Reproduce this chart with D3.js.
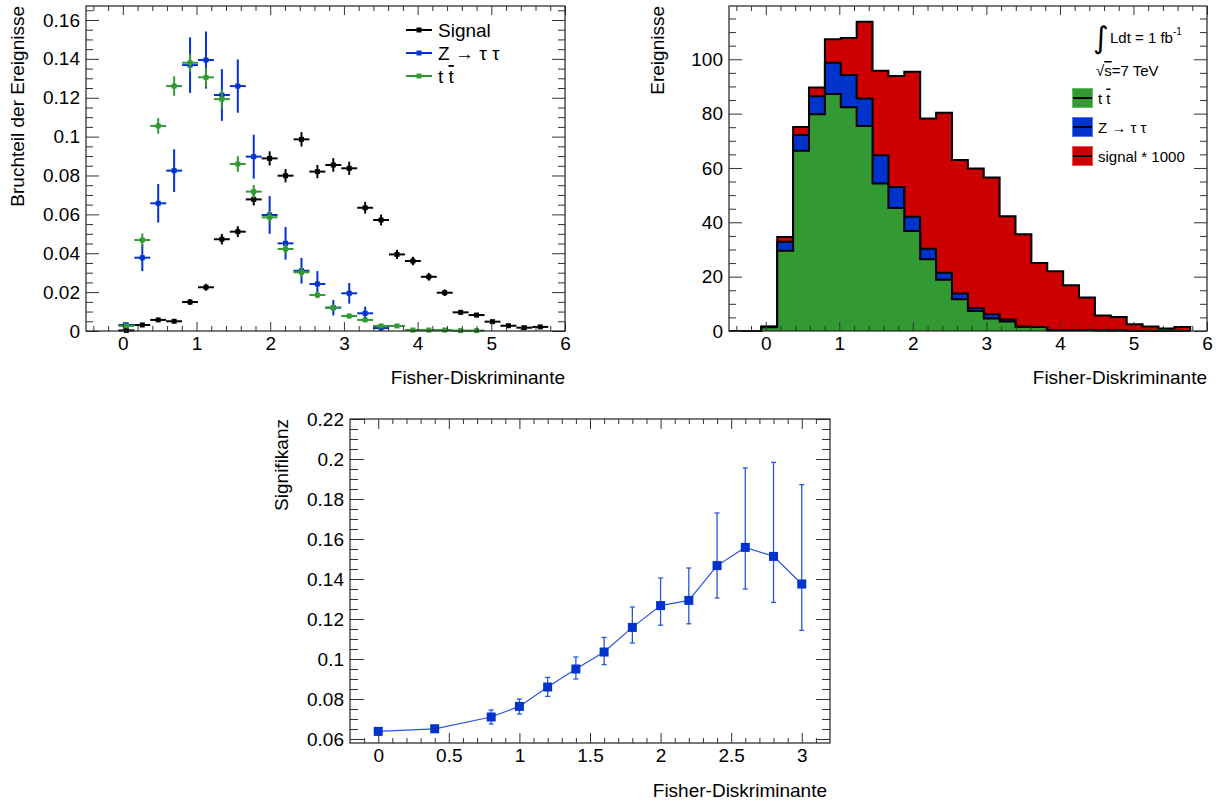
<!DOCTYPE html>
<html>
<head>
<meta charset="utf-8">
<script src="https://cdn.jsdelivr.net/npm/d3@7"></script>
<style>
body { margin: 0; background: #fff; }
svg { font-family: "Liberation Sans", Arial, sans-serif; }
</style>
</head>
<body>
<div id="wrapper"></div>
<script>
const width = 1222
const height = 800

// binning of the two upper plots
const binLo = -0.06
const binW = 0.216

// upper left: normalised distributions (fraction of events per bin)
const sigFrac = [0.0003, 0.0031, 0.0057, 0.0050, 0.0149, 0.0225, 0.0472, 0.0511, 0.0677, 0.0888, 0.0799, 0.0986, 0.0820, 0.0854, 0.0837, 0.0634, 0.0571, 0.0394, 0.0360, 0.0279, 0.0197, 0.0096, 0.0082, 0.0048, 0.0027, 0.0017, 0.0021]
const sigFracErr = [0.0002, 0.0007, 0.0009, 0.0008, 0.0015, 0.0018, 0.0027, 0.0028, 0.0031, 0.0036, 0.0034, 0.0037, 0.0034, 0.0035, 0.0034, 0.0030, 0.0028, 0.0024, 0.0022, 0.0020, 0.0017, 0.0012, 0.0011, 0.0008, 0.0006, 0.0005, 0.0005]
const zttFrac = [0.0031, 0.0377, 0.0657, 0.0825, 0.1368, 0.1394, 0.1214, 0.1260, 0.0897, 0.0597, 0.0451, 0.0310, 0.0242, 0.0120, 0.0194, 0.0091, 0.0015]
const zttFracErr = [0.0015, 0.0069, 0.0099, 0.0110, 0.0143, 0.0147, 0.0133, 0.0137, 0.0113, 0.0097, 0.0084, 0.0066, 0.0066, 0.0040, 0.0053, 0.0034, 0.0013]
const ttFrac = [0.0026, 0.0468, 0.1055, 0.1260, 0.1380, 0.1305, 0.1193, 0.0859, 0.0717, 0.0585, 0.0422, 0.0302, 0.0185, 0.0120, 0.0077, 0.0057, 0.0026, 0.0026, 0.0005, 0.0005, 0.0005, 0.0002, 0.0002]
const ttFracErr = [0.0007, 0.0034, 0.0040, 0.0050, 0.0045, 0.0050, 0.0050, 0.0040, 0.0034, 0.0030, 0.0025, 0.0025, 0.0017, 0.0015, 0.0012, 0.0010, 0.0007, 0.0007, 0.0003, 0.0003, 0.0003, 0.0002, 0.0002]

// upper right: stacked events
const ttEvents = [1.4, 29.5, 66.3, 79.8, 87.2, 82.3, 75.4, 54.3, 45.3, 36.8, 26.4, 18.9, 11.7, 7.4, 4.6, 3.5, 1.5, 1.5, 0.3, 0.3, 0.3, 0.15, 0.15, 0, 0, 0, 0]
const zttEvents = [0.2, 3.3, 5.8, 6.6, 11.5, 11.9, 10.2, 10.4, 7.7, 5.2, 3.9, 2.5, 2.1, 1.1, 1.6, 0.7, 0.2, 0, 0, 0, 0, 0, 0, 0, 0, 0, 0]
const sigEvents = [0.1, 1.8, 3.0, 3.2, 8.7, 13.6, 28.2, 31.1, 40.8, 53.4, 47.9, 58.9, 49.1, 51.3, 50.3, 38.0, 33.9, 23.5, 21.7, 16.5, 12.0, 5.6, 5.0, 2.5, 1.7, 0.9, 1.5]

// lower: significance vs. cut
const cutX = [0, 0.4, 0.8, 1.0, 1.2, 1.4, 1.6, 1.8, 2.0, 2.2, 2.4, 2.6, 2.8, 3.0]
const signif = [0.0638, 0.0651, 0.0710, 0.0763, 0.0860, 0.0950, 0.1035, 0.1158, 0.1267, 0.1293, 0.1467, 0.1558, 0.1513, 0.1375]
const signifErrUp = [0.0017, 0.0017, 0.0035, 0.0037, 0.0048, 0.0060, 0.0073, 0.0102, 0.0138, 0.0162, 0.0263, 0.0397, 0.0470, 0.0497]
const signifErrDown = [0.0017, 0.0017, 0.0035, 0.0038, 0.0047, 0.0050, 0.0063, 0.0078, 0.0098, 0.0117, 0.0162, 0.0208, 0.0230, 0.0232]

const cGreen = "#339933"
const cBlue = "#0033cc"
const cRed = "#cc0000"

const svg = d3.select("#wrapper").append("svg")
    .attr("width", width)
    .attr("height", height)

// frame with ROOT-style ticks on all four sides
function frame(x, y, o) {
    const g = svg.append("g")
    const [x0, x1] = x.range(), [y1, y0] = y.range()
    const fmt = o.fmt || (d => String(+d.toFixed(3)))
    const axes = [
        [d3.axisBottom(x), `translate(0,${y1})`, o.xMaj, o.xMin, o.xt, true],
        [d3.axisTop(x), `translate(0,${y0})`, o.xMaj, o.xMin, o.xt, false],
        [d3.axisLeft(y), `translate(${x0},0)`, o.yMaj, o.yMin, o.yt, true],
        [d3.axisRight(y), `translate(${x1},0)`, o.yMaj, o.yMin, o.yt, false]
    ]
    for (const [ax, tr, maj, min, len, lab] of axes) {
        g.append("g").attr("transform", tr)
            .call(ax.tickValues(min).tickSize(-len[1]).tickFormat(""))
            .call(s => s.select(".domain").remove())
        const a = g.append("g").attr("transform", tr)
            .call(ax.tickValues(maj).tickSize(-len[0]).tickPadding(lab ? o.pad : 0).tickFormat(lab ? fmt : ""))
            .call(s => s.select(".domain").remove())
        a.selectAll("text").attr("font-size", 19).attr("font-family", null).attr("fill", "#000")
    }
    g.selectAll(".tick line").attr("stroke", "#333")
    g.append("rect")
        .attr("x", x0).attr("y", y0)
        .attr("width", x1 - x0).attr("height", y1 - y0)
        .attr("fill", "none").attr("stroke", "#222").attr("stroke-width", 1.2)
    return g
}

function minors(lo, hi, step, majStep) {
    return d3.range(Math.round(lo / step), Math.round(hi / step) + 1)
        .map(i => +(i * step).toFixed(4))
        .filter(v => Math.abs(v / majStep - Math.round(v / majStep)) > 1e-6)
}

function title(txt, x, y, rot, anchor) {
    svg.append("text")
        .attr("transform", `translate(${x},${y})` + (rot ? " rotate(-90)" : ""))
        .attr("text-anchor", anchor)
        .attr("font-size", 19)
        .text(txt)
}

// "t t" with a bar over the second t
function tbar(sel) {
    sel.append("tspan").text("t ")
    sel.append("tspan").attr("text-decoration", "overline").text("t")
}

// ---------------- upper left ----------------
const xL = d3.scaleLinear([-0.5, 6], [86, 565])
const yL = d3.scaleLinear([0, 0.1672], [331, 6])
const center = i => binLo + binW * (i + 0.5)

function drawPoints(vals, errs, color) {
    const pts = vals.map((v, i) => ({ c: center(i), v, e: errs[i] }))
    const g = svg.append("g").attr("stroke", color).attr("stroke-width", 2)
    g.selectAll(".h").data(pts).join("line")
        .attr("x1", d => xL(d.c - binW / 2)).attr("x2", d => xL(d.c + binW / 2))
        .attr("y1", d => yL(d.v)).attr("y2", d => yL(d.v))
    g.selectAll(".v").data(pts).join("line")
        .attr("x1", d => xL(d.c)).attr("x2", d => xL(d.c))
        .attr("y1", d => yL(d.v - d.e)).attr("y2", d => yL(d.v + d.e))
    g.selectAll("rect").data(pts).join("rect")
        .attr("x", d => xL(d.c) - 2.5).attr("y", d => yL(d.v) - 2.5)
        .attr("width", 5).attr("height", 5)
        .attr("fill", color).attr("stroke", "none")
}

drawPoints(sigFrac, sigFracErr, "#000")
drawPoints(zttFrac, zttFracErr, cBlue)
drawPoints(ttFrac, ttFracErr, cGreen)

frame(xL, yL, {
    xMaj: d3.range(0, 7), xMin: minors(-0.4, 6, 0.2, 1), xt: [9, 5],
    yMaj: d3.range(0, 9).map(i => i * 0.02), yMin: minors(0, 0.165, 0.005, 0.02), yt: [13, 7],
    pad: 6
})
title("Bruchteil der Ereignisse", 24, 6, true, "end")
title("Fisher-Diskriminante", 565, 384, false, "end")

// legend
const legL = [
    { name: "Signal", color: "#000" },
    { name: "Z \u2192 \u03c4 \u03c4", color: cBlue },
    { name: null, color: cGreen }
]
const lg = svg.append("g").attr("transform", "translate(406,30)")
    .selectAll("g").data(legL).join("g")
    .attr("transform", (d, i) => `translate(0,${i * 23})`)
lg.append("line").attr("x2", 26).attr("stroke", d => d.color).attr("stroke-width", 2)
lg.append("rect").attr("x", 10.5).attr("y", -2.5).attr("width", 5).attr("height", 5).attr("fill", d => d.color)
const lt = lg.append("text").attr("x", 32).attr("y", 7).attr("font-size", 19)
lt.filter(d => d.name).text(d => d.name)
lt.filter(d => !d.name).call(tbar)

// ---------------- upper right ----------------
const xR = d3.scaleLinear([-0.5, 6], [729, 1207])
const yR = d3.scaleLinear([0, 119.6], [331, 6])

const cumZ = ttEvents.map((v, i) => v + zttEvents[i])
const cumAll = cumZ.map((v, i) => v + sigEvents[i])
const leadZero = binLo - 2 * binW

function stepPoints(vals) {
    const pts = [[leadZero, 0], [binLo, 0]]
    vals.forEach((v, i) => pts.push([binLo + i * binW, v]))
    const end = binLo + vals.length * binW
    pts.push([end, vals[vals.length - 1]], [end, 0])
    return pts
}
const area = d3.area().curve(d3.curveStepAfter)
    .x(d => xR(d[0])).y0(yR(0)).y1(d => yR(d[1]))
const outline = d3.line().curve(d3.curveStepAfter)
    .x(d => xR(d[0])).y(d => yR(d[1]))

const layers = [
    { vals: cumAll, color: cRed },
    { vals: cumZ, color: cBlue },
    { vals: ttEvents, color: cGreen }
]
const hg = svg.append("g")
for (const l of layers) {
    const pts = stepPoints(l.vals)
    hg.append("path").attr("d", area(pts)).attr("fill", l.color)
    hg.append("path").attr("d", outline(pts)).attr("fill", "none")
        .attr("stroke", "#000").attr("stroke-width", 2)
}

frame(xR, yR, {
    xMaj: d3.range(0, 7), xMin: minors(-0.4, 6, 0.2, 1), xt: [9, 5],
    yMaj: d3.range(0, 6).map(i => i * 20), yMin: minors(0, 115, 5, 20), yt: [13, 7],
    pad: 6, fmt: d => String(d)
})
title("Ereignisse", 664, 6, true, "end")
title("Fisher-Diskriminante", 1207, 384, false, "end")

// legend and labels
const info = svg.append("g").attr("font-size", 15)
info.append("text").attr("x", 1093).attr("y", 48).attr("font-size", 30)
    .attr("font-family", "DejaVu Sans").text("\u222b")
const lum = info.append("text").attr("x", 1110).attr("y", 43)
lum.append("tspan").text("Ldt = 1 fb")
lum.append("tspan").attr("dy", -8).attr("font-size", 10).text("-1")
const rs = info.append("text").attr("x", 1096).attr("y", 76)
rs.append("tspan").text("\u221a")
rs.append("tspan").attr("text-decoration", "overline").text("s")
rs.append("tspan").text("=7 TeV")

const legR = [
    { name: null, color: cGreen, light: "#66bb66" },
    { name: "Z \u2192 \u03c4 \u03c4", color: cBlue, light: "#5577ee" },
    { name: "signal * 1000", color: cRed, light: "#ee5555" }
]
const rg = info.append("g").attr("transform", "translate(1072,98)")
    .selectAll("g").data(legR).join("g")
    .attr("transform", (d, i) => `translate(0,${i * 29})`)
rg.append("rect").attr("x", 0.5).attr("y", -9.5).attr("width", 20).attr("height", 19)
    .attr("fill", d => d.color).attr("stroke", d => d.light)
rg.append("line").attr("x1", 1).attr("x2", 20).attr("stroke", "#000").attr("stroke-width", 2)
const rt = rg.append("text").attr("x", 26).attr("y", 5.5)
rt.filter(d => d.name).text(d => d.name)
rt.filter(d => !d.name).call(tbar)

// ---------------- lower ----------------
const xB = d3.scaleLinear([-0.2, 3.2], [350, 830])
const yB = d3.scaleLinear([0.058, 0.22], [743, 419])
const sPts = cutX.map((x, i) => ({ x, y: signif[i], up: signifErrUp[i], dn: signifErrDown[i] }))

const bg = svg.append("g")
bg.append("path")
    .attr("d", d3.line().x(d => xB(d.x)).y(d => yB(d.y))(sPts))
    .attr("fill", "none").attr("stroke", "#2a55dd").attr("stroke-width", 1.2)
const eb = bg.append("g").attr("stroke", "#2a55dd").attr("stroke-width", 1.3)
eb.selectAll(".v").data(sPts).join("line")
    .attr("x1", d => xB(d.x)).attr("x2", d => xB(d.x))
    .attr("y1", d => yB(d.y - d.dn)).attr("y2", d => yB(d.y + d.up))
eb.selectAll(".t").data(sPts).join("line")
    .attr("x1", d => xB(d.x) - 2.5).attr("x2", d => xB(d.x) + 2.5)
    .attr("y1", d => yB(d.y + d.up)).attr("y2", d => yB(d.y + d.up))
eb.selectAll(".b").data(sPts).join("line")
    .attr("x1", d => xB(d.x) - 2.5).attr("x2", d => xB(d.x) + 2.5)
    .attr("y1", d => yB(d.y - d.dn)).attr("y2", d => yB(d.y - d.dn))
bg.selectAll("rect").data(sPts).join("rect")
    .attr("x", d => xB(d.x) - 4.5).attr("y", d => yB(d.y) - 4.5)
    .attr("width", 9).attr("height", 9).attr("fill", cBlue)

frame(xB, yB, {
    xMaj: d3.range(0, 7).map(i => i * 0.5), xMin: minors(-0.1, 3.1, 0.1, 0.5), xt: [10, 5],
    yMaj: d3.range(0, 9).map(i => 0.06 + i * 0.02), yMin: minors(0.06, 0.215, 0.005, 0.02), yt: [14, 8],
    pad: 6
})
title("Signifikanz", 288, 419, true, "end")
title("Fisher-Diskriminante", 827, 797, false, "end")
</script>
</body>
</html>
